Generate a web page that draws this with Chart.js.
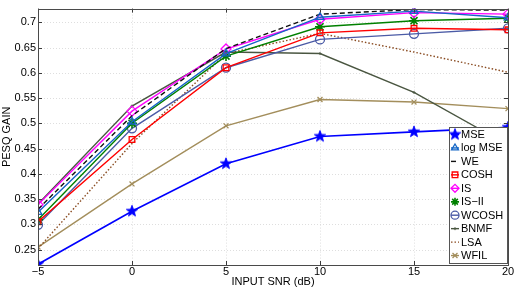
<!DOCTYPE html>
<html>
<head>
<meta charset="utf-8">
<style>
  html, body { margin: 0; padding: 0; background: #fff; }
  #wrap { width: 518px; height: 288px; }
</style>
<script src="https://cdn.jsdelivr.net/npm/chart.js"></script>
</head>
<body>
<div id="wrap"><canvas id="pesqChart" width="518" height="288"></canvas></div>
<script>
// PESQ gain vs input SNR, one array per method
const snr = [-5, 0, 5, 10, 15, 20];
const mse    = [0.221, 0.326, 0.420, 0.474, 0.483, 0.492];
const logMse = [0.324, 0.503, 0.638, 0.710, 0.722, 0.709];
const we     = [0.330, 0.515, 0.648, 0.716, 0.725, 0.724];
const cosh   = [0.305, 0.468, 0.610, 0.679, 0.688, 0.685];
const is     = [0.339, 0.524, 0.647, 0.706, 0.719, 0.716];
const isII   = [0.309, 0.500, 0.633, 0.691, 0.703, 0.708];
const wcosh  = [0.299, 0.490, 0.610, 0.666, 0.677, 0.688];
const bnmf   = [0.340, 0.534, 0.641, 0.638, 0.561, 0.457];
const lsa    = [0.252, 0.460, 0.638, 0.678, 0.641, 0.601];
const wfil   = [0.255, 0.380, 0.495, 0.547, 0.542, 0.529];

const xTicks = [-5, 0, 5, 10, 15, 20];
const yTicks = [0.25, 0.3, 0.35, 0.4, 0.45, 0.5, 0.55, 0.6, 0.65, 0.7];

const FONT = '"Liberation Sans", Arial, Helvetica, sans-serif';

// filled five point star for the MSE marker
function makeStar(color, r) {
    const c = document.createElement('canvas');
    const s = Math.ceil(r * 2 + 2);
    c.width = s; c.height = s;
    const g = c.getContext('2d');
    g.beginPath();
    for (let i = 0; i < 10; i++) {
        const rad = i % 2 === 0 ? r : r * 0.42;
        const a = -Math.PI / 2 + i * Math.PI / 5;
        const px = s / 2 + rad * Math.cos(a);
        const py = s / 2 + rad * Math.sin(a);
        if (i === 0) g.moveTo(px, py); else g.lineTo(px, py);
    }
    g.closePath();
    g.fillStyle = color;
    g.fill();
    g.strokeStyle = color;
    g.lineWidth = 0.8;
    g.stroke();
    return c;
}

const starImg = makeStar('#0000ff', 6);

function series(label, values, color, opts) {
    return Object.assign({
        label: label,
        data: values.map((v, i) => ({ x: snr[i], y: v })),
        borderColor: color,
        backgroundColor: 'rgba(0,0,0,0)',
        pointBorderColor: color,
        pointBackgroundColor: 'rgba(0,0,0,0)',
        borderWidth: 1.4,
        pointBorderWidth: 1.3,
        pointRadius: 0,
        tension: 0,
        fill: false
    }, opts || {});
}

const datasets = [
    series('MSE', mse, '#0000ff', { pointStyle: starImg, pointRadius: 6, borderWidth: 1.6 }),
    series('log MSE', logMse, '#1566c6', { pointStyle: 'triangle', pointRadius: 4.5 }),
    series('WE', we, '#111111', { borderDash: [5, 3], pointRadius: 0 }),
    series('COSH', cosh, '#ff0000', { pointStyle: 'rect', pointRadius: 4 }),
    series('IS', is, '#ff00ff', { pointStyle: 'rectRot', pointRadius: 5 }),
    series('IS\u2212II', isII, '#008000', { pointStyle: 'star', pointRadius: 5, pointBorderWidth: 1.6 }),
    series('WCOSH', wcosh, '#4b5ba6', { pointStyle: 'circle', pointRadius: 4.5 }),
    series('BNMF', bnmf, '#4a5641', { pointStyle: 'cross', pointRadius: 1.5, pointBorderWidth: 1 }),
    series('LSA', lsa, '#8a4c22', { borderDash: [1.5, 2], pointRadius: 0 }),
    series('WFIL', wfil, '#a38e5c', { pointStyle: 'crossRot', pointRadius: 3.5 })
];

// grid, box and inward tick marks, MATLAB style
const axesBox = {
    id: 'axesBox',
    beforeDatasetsDraw(chart) {
        const { ctx, chartArea: a, scales: { x, y } } = chart;
        ctx.save();
        ctx.strokeStyle = '#d6d6d6';
        ctx.lineWidth = 0.8;
        ctx.setLineDash([1, 2]);
        xTicks.forEach(v => {
            const px = Math.round(x.getPixelForValue(v)) + 0.5;
            ctx.beginPath(); ctx.moveTo(px, a.top); ctx.lineTo(px, a.bottom); ctx.stroke();
        });
        yTicks.forEach(v => {
            const py = Math.round(y.getPixelForValue(v)) + 0.5;
            ctx.beginPath(); ctx.moveTo(a.left, py); ctx.lineTo(a.right, py); ctx.stroke();
        });
        ctx.restore();
    },
    afterDatasetsDraw(chart) {
        const { ctx, chartArea: a, scales: { x, y } } = chart;
        ctx.save();
        ctx.strokeStyle = '#3a3a3a';
        ctx.lineWidth = 1;
        const t = 4;
        xTicks.forEach(v => {
            const px = Math.round(x.getPixelForValue(v)) + 0.5;
            ctx.beginPath();
            ctx.moveTo(px, a.bottom); ctx.lineTo(px, a.bottom - t);
            ctx.moveTo(px, a.top); ctx.lineTo(px, a.top + t);
            ctx.stroke();
        });
        yTicks.forEach(v => {
            const py = Math.round(y.getPixelForValue(v)) + 0.5;
            ctx.beginPath();
            ctx.moveTo(a.left, py); ctx.lineTo(a.left + t, py);
            ctx.moveTo(a.right, py); ctx.lineTo(a.right - t, py);
            ctx.stroke();
        });
        ctx.strokeStyle = '#4a4a4a';
        ctx.strokeRect(Math.round(a.left) + 0.5, Math.round(a.top) + 0.5,
            Math.round(a.right - a.left), Math.round(a.bottom - a.top));

        // x axis title, placed under the tick labels
        ctx.fillStyle = '#000';
        ctx.font = '11px ' + FONT;
        ctx.textAlign = 'center';
        ctx.textBaseline = 'middle';
        ctx.fillText('INPUT SNR (dB)', (a.left + a.right) / 2, 282);
        ctx.restore();
    }
};

// legend box inside the axes, bottom right
const insideLegend = {
    id: 'insideLegend',
    afterDraw(chart) {
        const { ctx, chartArea: a } = chart;
        const sets = chart.data.datasets;
        const w = 58, rowH = 13.45;
        const h = rowH * sets.length + 1.5;
        const left = a.right - w - 1, top = a.bottom - h - 2;
        ctx.save();
        ctx.fillStyle = '#ffffff';
        ctx.fillRect(left, top, w, h);
        ctx.strokeStyle = '#555555';
        ctx.lineWidth = 1;
        ctx.strokeRect(Math.round(left) + 0.5, Math.round(top) + 0.5, Math.round(w), Math.round(h));
        ctx.font = '11px ' + FONT;
        ctx.textBaseline = 'middle';
        ctx.textAlign = 'left';
        sets.forEach((ds, i) => {
            const cy = top + 7.5 + i * rowH;
            const mx = left + 6;
            ctx.save();
            ctx.strokeStyle = ds.borderColor;
            ctx.lineWidth = ds.borderWidth;
            ctx.setLineDash(ds.borderDash || []);
            ctx.beginPath();
            ctx.moveTo(left + 2, cy); ctx.lineTo(left + 10, cy);
            ctx.stroke();
            ctx.setLineDash([]);
            if (ds.pointRadius > 0 && Chart.helpers && Chart.helpers.drawPoint) {
                ctx.strokeStyle = ds.pointBorderColor;
                ctx.fillStyle = ds.pointBackgroundColor;
                ctx.lineWidth = ds.pointBorderWidth;
                Chart.helpers.drawPoint(ctx, {
                    pointStyle: ds.pointStyle,
                    radius: Math.min(ds.pointRadius, 4),
                    rotation: 0,
                    borderWidth: ds.pointBorderWidth
                }, mx, cy);
            }
            ctx.restore();
            ctx.fillStyle = '#000000';
            ctx.fillText(ds.label, left + 12, cy + 0.5);
        });
        ctx.restore();
    }
};

new Chart(document.getElementById('pesqChart'), {
    type: 'line',
    data: { datasets: datasets },
    plugins: [axesBox, insideLegend],
    options: {
        responsive: false,
        animation: false,
        devicePixelRatio: 1,
        layout: { padding: { left: 0, right: 10, top: 4, bottom: 0 } },
        plugins: {
            legend: { display: false },
            tooltip: { enabled: false }
        },
        scales: {
            x: {
                type: 'linear',
                min: -5,
                max: 20,
                afterBuildTicks: s => { s.ticks = xTicks.map(v => ({ value: v })); },
                afterFit: s => { s.height = 23; },
                grid: { display: false, drawTicks: false },
                border: { display: false },
                ticks: {
                    color: '#000',
                    padding: 0,
                    font: { family: FONT, size: 11 },
                    maxRotation: 0,
                    callback: v => v < 0 ? '\u2212' + (-v) : String(v)
                }
            },
            y: {
                type: 'linear',
                min: 0.2195,
                max: 0.727,
                afterBuildTicks: s => { s.ticks = yTicks.map(v => ({ value: v })); },
                afterFit: s => { s.width = 38; },
                grid: { display: false, drawTicks: false },
                border: { display: false },
                ticks: {
                    color: '#000',
                    padding: 2,
                    font: { family: FONT, size: 11 },
                    callback: v => String(Number(v.toFixed(2)))
                },
                title: {
                    display: true,
                    text: 'PESQ GAIN',
                    color: '#000',
                    font: { family: FONT, size: 11 },
                    padding: { top: 0, bottom: 0 }
                }
            }
        }
    }
});
</script>
</body>
</html>
